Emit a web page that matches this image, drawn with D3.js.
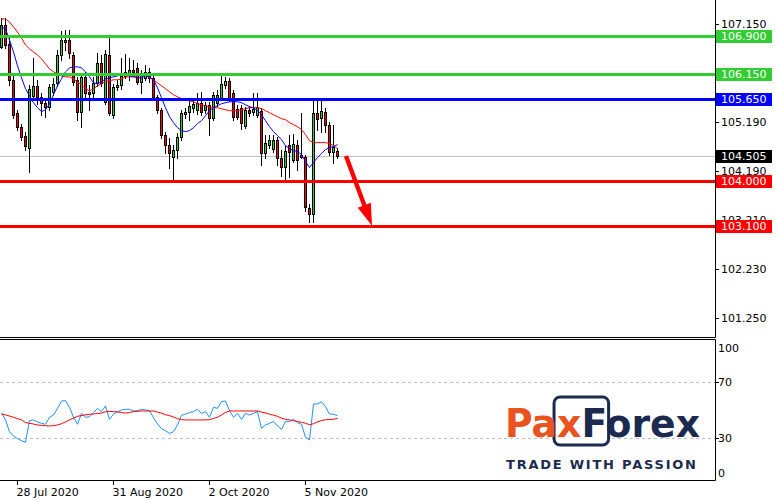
<!DOCTYPE html>
<html><head><meta charset="utf-8">
<script src="https://cdn.jsdelivr.net/npm/d3@7/dist/d3.min.js"></script>
<style>html,body{margin:0;padding:0;background:#fff;}svg{display:block}</style>
</head><body><svg id="c" width="778" height="500"></svg>
<script>
// ---- data (daily candles, 22 Jul 2020 .. 17 Nov 2020) ----
const opens=[106.69,107.13,106.75,106.03,105.37,105.09,104.91,104.67,105.71,105.91,
105.69,105.57,105.49,105.79,105.97,106.53,106.79,106.83,106.53,106.03,
105.39,106.09,105.79,105.77,105.97,106.37,105.59,106.53,105.33,105.89,
105.93,106.11,106.15,106.23,106.27,105.99,106.07,106.19,106.07,105.69,
105.43,104.93,104.73,104.49,104.63,104.89,105.35,105.39,105.47,105.43,
105.57,105.43,105.53,105.27,105.57,105.67,105.93,106.01,105.77,105.45,
105.47,105.11,105.43,105.39,105.33,105.41,104.57,104.73,104.65,104.83,
104.47,104.29,104.73,104.43,104.73,104.53,104.49,103.45,103.33,105.37,
105.27,105.39,105.13,104.59,104.61];
const highs=[107.27,107.27,106.87,106.13,105.43,105.15,104.99,105.93,106.47,106.03,
105.77,105.63,105.95,106.07,106.63,107.01,107.03,107.03,106.59,106.09,
106.15,106.19,105.93,106.09,106.57,106.53,106.63,106.93,105.95,106.03,
106.47,106.55,106.47,106.43,106.37,106.23,106.33,106.27,106.13,105.73,
105.47,104.99,104.87,104.73,104.97,105.43,105.47,105.67,105.63,105.77,
105.79,105.59,105.59,105.79,105.83,106.13,106.09,106.07,105.83,105.53,
105.53,105.49,105.51,105.77,105.77,105.47,104.93,104.93,104.93,104.89,
104.63,104.71,104.93,104.95,104.83,105.37,104.53,103.53,105.61,105.63,
105.63,105.47,105.19,105.13,104.67];
const lows=[106.67,106.67,105.93,105.27,105.03,104.83,104.63,104.17,105.63,105.55,
105.33,105.29,105.43,105.73,105.91,106.43,106.63,106.47,105.93,105.23,
105.09,105.69,105.43,105.63,105.91,105.91,105.55,105.33,105.27,105.83,
105.85,106.07,106.03,106.11,105.95,105.77,106.03,105.99,105.65,105.37,
104.87,104.57,104.27,104.03,104.47,104.83,105.27,105.23,105.39,105.35,
105.33,105.37,104.93,105.23,105.51,105.63,105.87,105.61,105.23,105.25,
105.05,105.07,105.31,105.33,105.29,104.33,104.47,104.67,104.59,104.33,
104.09,104.03,104.07,104.39,104.23,104.47,103.39,103.17,103.17,105.03,
104.99,104.99,104.53,104.37,104.47];
const closes=[107.13,106.73,106.03,105.33,105.09,104.89,104.71,105.85,105.91,105.69,
105.57,105.49,105.89,105.95,106.53,106.83,106.83,106.57,105.99,105.39,
106.09,105.77,105.75,105.97,106.37,105.97,106.55,105.37,105.89,105.93,
106.11,106.19,106.23,106.19,105.99,106.17,106.19,106.07,105.69,105.43,
104.93,104.73,104.57,104.63,104.89,105.37,105.39,105.51,105.55,105.57,
105.39,105.53,105.27,105.73,105.73,105.95,106.01,105.65,105.29,105.29,
105.17,105.43,105.37,105.45,105.49,104.57,104.77,104.83,104.83,104.47,
104.29,104.61,104.59,104.75,104.43,104.49,103.47,103.33,105.37,105.25,
105.41,105.13,104.59,104.69,104.505];
const maFast=[107.09,107.05,106.83,106.59,106.31,106.07,105.85,105.71,105.57,105.47,
105.39,105.43,105.55,105.73,105.91,106.05,106.19,106.27,106.29,106.29,
106.27,106.19,106.09,105.97,105.95,105.99,106.05,106.07,106.09,106.11,
106.13,106.13,106.11,106.09,106.07,106.07,106.11,106.09,106.03,105.87,
105.67,105.47,105.29,105.17,105.07,105.01,104.99,105.01,105.07,105.15,
105.21,105.31,105.41,105.47,105.51,105.55,105.57,105.59,105.59,105.59,
105.57,105.53,105.49,105.47,105.41,105.33,105.21,105.09,104.99,104.91,
104.83,104.71,104.65,104.61,104.59,104.53,104.39,104.27,104.37,104.47,
104.55,104.63,104.67,104.69,104.73];
const maSlow=[107.25,107.25,107.19,107.09,106.99,106.87,106.73,106.65,106.59,106.53,
106.45,106.35,106.25,106.19,106.15,106.11,106.09,106.09,106.05,105.99,
105.93,105.85,105.81,105.85,105.91,105.95,105.99,106.01,106.03,106.03,
106.05,106.09,106.09,106.09,106.11,106.11,106.11,106.07,106.03,105.97,
105.91,105.85,105.79,105.73,105.69,105.65,105.63,105.61,105.59,105.55,
105.53,105.51,105.49,105.47,105.47,105.45,105.43,105.41,105.41,105.41,
105.43,105.45,105.47,105.47,105.47,105.45,105.41,105.37,105.33,105.29,
105.25,105.23,105.17,105.13,105.09,105.03,104.93,104.81,104.77,104.77,
104.77,104.77,104.75,104.71,104.65];
const rsi=[48,42.9,34.5,31.4,29.5,28.1,26.9,42.4,42.9,41.4,
40.5,39.8,44.8,46.4,51.2,56.4,56.7,51.9,44.8,39.8,
47.6,44.8,45.2,48.1,51.2,48.8,52.9,43.3,47.1,48.8,
50,50.5,50.5,49.3,49.5,50.5,50,49.5,44.5,40,
36.7,35.2,33.3,34.5,39.3,46.2,47.1,48.1,48.8,50.5,
47.6,48.8,44.8,51.9,51.2,55.9,56.4,49.5,44.8,47.6,
43.3,47.6,46.4,47.6,48.8,36.9,39.3,40.5,41.7,38.6,
36.2,41.7,41.7,43.3,40.9,39.8,30.5,28.6,54.3,54.3,
55.9,52.4,47.1,47,45.9];
const rsiMa=[47.1,46.5,45.7,44.8,43.8,42.9,41,40.5,40,39.3,
39,38.8,38.6,38.8,39.3,40.2,41.5,42.9,44.2,45.5,
46.1,46.5,46.9,47.2,47.5,47.8,48.8,49,48.8,48.6,
48.2,47.8,48.2,48.8,49.1,49.3,49.3,49.3,49.3,48.5,
47.8,46.6,46,45,43.8,43.2,42.9,42.9,42.9,42.9,
42.9,42.9,43.1,44,44.8,46.5,48.3,49.3,49.3,49.3,
49.3,49.3,49.3,49.3,49.3,48.5,47.9,47,46.3,45.5,
44.2,43.3,42.9,42.4,41.8,41.2,40.5,39.5,40.2,41.5,
42.5,43,43.3,43.3,44.1];
const firstDate="2020-07-22";
const xTickLabels=["28 Jul 2020","31 Aug 2020","2 Oct 2020","5 Nov 2020"];
const priceTicks=[107.15,106.17,105.19,104.19,103.21,102.23,101.25];
const rsiTicks=[100,70,30,0];
const levels=[106.90,106.15,105.65,104.00,103.10];
const levelColors=["#32cd32","#32cd32","#0000ff","#ff0000","#ff0000"];
const lastPrice=104.505;
const arrowFrom=[86.25,104.50], arrowTo=[92.75,103.10];

// ---- build ----
const fmtDate=d3.timeFormat("%-d %b %Y");
const dates=[];{let d=new Date(firstDate+"T00:00:00");while(dates.length<opens.length){const wd=d.getDay();if(wd!==0&&wd!==6)dates.push(fmtDate(d));d=new Date(d.getTime()+864e5);}}
const data=opens.map((o,i)=>({o,h:highs[i],l:lows[i],c:closes[i]}));

const svg=d3.select("#c");
const AX=715;
svg.append("rect").attr("width",778).attr("height",500).attr("fill","#fff");
const x=d3.scaleLinear().domain([0,84]).range([1,337]);
const y=d3.scaleLinear().domain([101.25,107.15]).range([318,24]);
const yR=d3.scaleLinear().domain([0,100]).range([480,340]);
const px=v=>Math.round(x(v))+0.5;
const FONT="DejaVu Sans, Verdana, sans-serif";

const defs=svg.append("defs");
defs.append("clipPath").attr("id","cm").append("rect").attr("x",0).attr("y",0).attr("width",AX).attr("height",337);
defs.append("clipPath").attr("id","cr").append("rect").attr("x",0).attr("y",340).attr("width",AX).attr("height",140);

const gm=svg.append("g").attr("clip-path","url(#cm)");
gm.append("line").attr("x1",0).attr("x2",AX).attr("y1",Math.round(y(lastPrice))+0.5).attr("y2",Math.round(y(lastPrice))+0.5).attr("stroke","#c0c0c0");
const gc=gm.append("g");
data.forEach((d,i)=>{
  const cx=px(i);
  gc.append("line").attr("x1",cx).attr("x2",cx).attr("y1",Math.round(y(d.h))).attr("y2",Math.round(y(d.l))+1).attr("stroke","#000");
  const t=Math.round(y(Math.max(d.o,d.c))),b=Math.round(y(Math.min(d.o,d.c)));
  gc.append("rect").attr("x",cx-1).attr("y",t+0.5).attr("width",2).attr("height",Math.max(b-t,0))
    .attr("fill",d.c>=d.o?"#32cd32":"#ff0000").attr("stroke","#000");
});
const line=d3.line().x((d,i)=>x(i)+0.5).y(d=>y(d));
gm.append("path").attr("d",line(maSlow)).attr("fill","none").attr("stroke","#ff0000");
gm.append("path").attr("d",line(maFast)).attr("fill","none").attr("stroke","#0000ff");
levels.forEach((p,i)=>{
  const yy=Math.round(y(p))+0.5;
  gm.append("line").attr("x1",0).attr("x2",AX).attr("y1",yy).attr("y2",yy).attr("stroke",levelColors[i]).attr("stroke-width",3);
});
{
  const x1=x(arrowFrom[0]),y1=y(arrowFrom[1]),x2=x(arrowTo[0]),y2=y(arrowTo[1]);
  const dx=x2-x1,dy=y2-y1,L=Math.hypot(dx,dy),ux=dx/L,uy=dy/L,nx=-uy,ny=ux;
  const hl=22,hw=7,sw=2.2;
  const bx=x2-ux*hl,by=y2-uy*hl;
  const pts=[[x1+nx*sw,y1+ny*sw],[bx+nx*sw,by+ny*sw],[bx+nx*hw,by+ny*hw],[x2,y2],[bx-nx*hw,by-ny*hw],[bx-nx*sw,by-ny*sw],[x1-nx*sw,y1-ny*sw]];
  svg.append("path").attr("d","M"+pts.map(p=>p.join(",")).join("L")+"Z").attr("fill","#ff0000");
}

const fr=svg.append("g").attr("stroke","#000").attr("fill","none");
fr.append("path").attr("d",`M${AX+0.5},0V337.5H0`);
fr.append("path").attr("d",`M0,339.5H${AX+0.5}V480.5H0`);

const ga=svg.append("g").attr("font-family",FONT).attr("font-size",11);
priceTicks.forEach(p=>{
  const yy=Math.round(y(p))+0.5;
  ga.append("line").attr("x1",AX).attr("x2",AX+4).attr("y1",yy).attr("y2",yy).attr("stroke","#000");
  ga.append("text").attr("x",721).attr("y",yy).attr("dy","0.36em").text(p.toFixed(3));
});
levels.concat([lastPrice]).forEach((p,i)=>{
  const yy=Math.round(y(p));
  const col=i<levels.length?levelColors[i]:"#000";
  ga.append("rect").attr("x",716).attr("y",yy-6).attr("width",56).attr("height",13).attr("fill",col);
  ga.append("text").attr("x",721).attr("y",yy+0.5).attr("dy","0.36em").attr("fill","#fff").text(p.toFixed(3));
});

const gr=svg.append("g").attr("clip-path","url(#cr)");
[70,30].forEach(v=>{
  const yy=Math.round(yR(v))+0.5;
  gr.append("line").attr("x1",0).attr("x2",AX).attr("y1",yy).attr("y2",yy).attr("stroke","#c0c0c0").attr("stroke-dasharray","3,3");
});
const rl=d3.line().x((d,i)=>x(i)+0.5).y(d=>yR(d));
gr.append("path").attr("d",rl(rsi)).attr("fill","none").attr("stroke","#1e90ff");
gr.append("path").attr("d",rl(rsiMa)).attr("fill","none").attr("stroke","#ff0000");
rsiTicks.forEach(v=>{
  const yy=Math.round(yR(v))+0.5;
  if(v===70||v===30) ga.append("line").attr("x1",AX).attr("x2",AX+4).attr("y1",yy).attr("y2",yy).attr("stroke","#000");
  const ty=Math.min(Math.max(yy,348),473);
  ga.append("text").attr("x",718).attr("y",ty).attr("dy","0.36em").text(v);
});

xTickLabels.forEach(lbl=>{
  const i=dates.indexOf(lbl);
  const xx=px(i);
  ga.append("line").attr("x1",xx).attr("x2",xx).attr("y1",480).attr("y2",485).attr("stroke","#000");
  ga.append("text").attr("x",xx-1).attr("y",496).text(lbl);
});

{
  const NAVY="#1b2a4e",OR="#e8531f";
  const lg=svg.append("g");
  const t=lg.append("text").attr("x",505).attr("y",437).attr("font-family","DejaVu Sans, sans-serif").attr("font-weight","bold").attr("font-size",39)
    .attr("textLength",195).attr("lengthAdjust","spacingAndGlyphs");
  t.append("tspan").attr("fill",OR).text("Pax");
  t.append("tspan").attr("fill",NAVY).text("Forex");
  const n=t.node();
  const s=n.getStartPositionOfChar(2).x-3, e=n.getEndPositionOfChar(3).x+3;
  lg.insert("rect","text").attr("x",s).attr("y",397).attr("width",e-s).attr("height",48).attr("rx",6).attr("fill","#fff").attr("stroke",NAVY).attr("stroke-width",3);
  lg.append("text").attr("x",506).attr("y",469).attr("font-family","DejaVu Sans, sans-serif").attr("font-weight","bold").attr("font-size",13)
    .attr("fill",NAVY).attr("textLength",190).attr("lengthAdjust","spacing").text("TRADE WITH PASSION");
}
</script></body></html>
